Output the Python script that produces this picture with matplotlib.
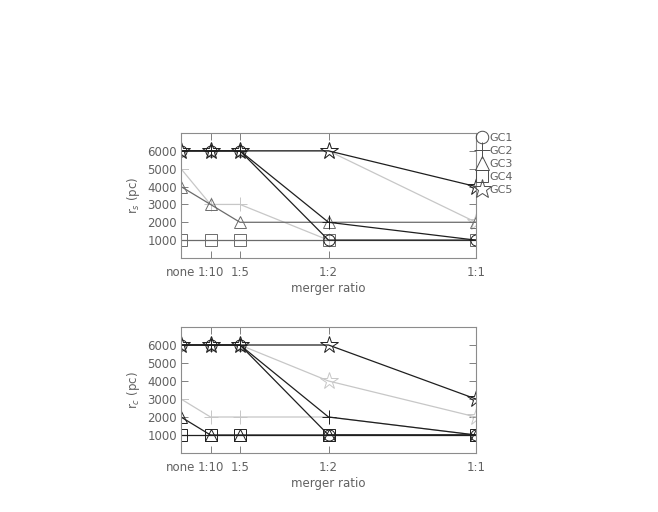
import numpy as np
import matplotlib
matplotlib.use("Agg")
import matplotlib.pyplot as plt
from matplotlib.lines import Line2D

# categories
ratio_labels = ["none", "1:10", "1:5", "1:2", "1:1"]
ratio_x = [0.0, 0.1, 0.2, 0.5, 1.0]
gc_names = ["GC1", "GC2", "GC3", "GC4", "GC5"]

# r_s (pc) -- dark set
rs_gc1 = [6000, 6000, 6000, 1000, 1000]
rs_gc2 = [6000, 6000, 6000, 2000, 1000]
rs_gc3 = [4000, 3000, 2000, 2000, 2000]
rs_gc4 = [1000, 1000, 1000, 1000, 1000]
rs_gc5 = [6000, 6000, 6000, 6000, 4000]
# r_s (pc) -- light set
rs_gc2_b = [5000, 3000, 3000, 1000, 1000]
rs_gc5_b = [6000, 6000, 6000, 6000, 2000]

# r_c (pc) -- dark set
rc_gc1 = [6000, 6000, 6000, 1000, 1000]
rc_gc2 = [6000, 6000, 6000, 2000, 1000]
rc_gc3 = [2000, 1000, 1000, 1000, 1000]
rc_gc4 = [1000, 1000, 1000, 1000, 1000]
rc_gc5 = [6000, 6000, 6000, 6000, 3000]
# r_c (pc) -- light set
rc_gc2_b = [3000, 2000, 2000, 2000, 1000]
rc_gc5_b = [6000, 6000, 6000, 4000, 2000]

yticks = [1000, 2000, 3000, 4000, 5000, 6000]

markers = {"GC1": ("o", 8), "GC2": ("+", 10), "GC3": ("^", 9), "GC4": ("s", 8), "GC5": ("*", 13)}
DARK, MID, LIGHT = "0.12", "0.42", "0.78"
TXT = "0.38"
plt.rcParams["font.family"] = ["DejaVu Sans"]

fig = plt.figure(figsize=(6.58, 5.12), dpi=100)
ax1 = fig.add_axes([181/658, 1-258/512, 295/658, 125/512])
ax2 = fig.add_axes([181/658, 1-453/512, 295/658, 126/512])


def draw(ax, series):
    for vals, name, col in series:
        m, ms = markers[name]
        ax.plot(ratio_x, vals, color=col, lw=0.9, marker=m, ms=ms,
                mfc="none", mec=col, mew=0.7)


draw(ax1, [
    (rs_gc2_b, "GC2", LIGHT), (rs_gc5_b, "GC5", LIGHT),
    (rs_gc3, "GC3", MID), (rs_gc4, "GC4", MID),
    (rs_gc1, "GC1", DARK), (rs_gc2, "GC2", DARK), (rs_gc5, "GC5", DARK),
])
draw(ax2, [
    (rc_gc2_b, "GC2", LIGHT), (rc_gc5_b, "GC5", LIGHT),
    (rc_gc3, "GC3", DARK), (rc_gc4, "GC4", DARK),
    (rc_gc1, "GC1", DARK), (rc_gc2, "GC2", DARK), (rc_gc5, "GC5", DARK),
])

for ax, lab in [(ax1, "r$_s$ (pc)"), (ax2, "r$_c$ (pc)")]:
    ax.set_xlim(0, 1)
    ax.set_ylim(0, 7000)
    ax.set_xticks(ratio_x)
    ax.set_xticklabels(ratio_labels)
    ax.set_yticks(yticks)
    ax.set_yticklabels([str(v) for v in yticks])
    ax.tick_params(direction="in", length=5, width=0.7, color="0.5",
                   labelsize=8.5, labelcolor=TXT, top=True, right=True)
    ax.tick_params(axis="x", pad=6)
    ax.tick_params(axis="y", pad=3)
    for s in ax.spines.values():
        s.set_color("0.55")
        s.set_linewidth(0.8)
    ax.set_xlabel("merger ratio", fontsize=8.5, color=TXT, labelpad=2)
    ax.set_ylabel(lab, fontsize=8.5, color=TXT, labelpad=4)

# legend
handles = [Line2D([], [], ls="none", marker=markers[n][0], ms=markers[n][1] + 1,
                  mfc="none", mec="0.3", mew=0.7) for n in gc_names]
ax1.legend(handles, gc_names, loc="upper left", bbox_to_anchor=(1.005, 1.0),
           frameon=False, fontsize=8, labelcolor=TXT, handlelength=0.9,
           handletextpad=0.15, labelspacing=0.27, borderpad=0, borderaxespad=0)

fig.savefig("out.png", dpi=100)
